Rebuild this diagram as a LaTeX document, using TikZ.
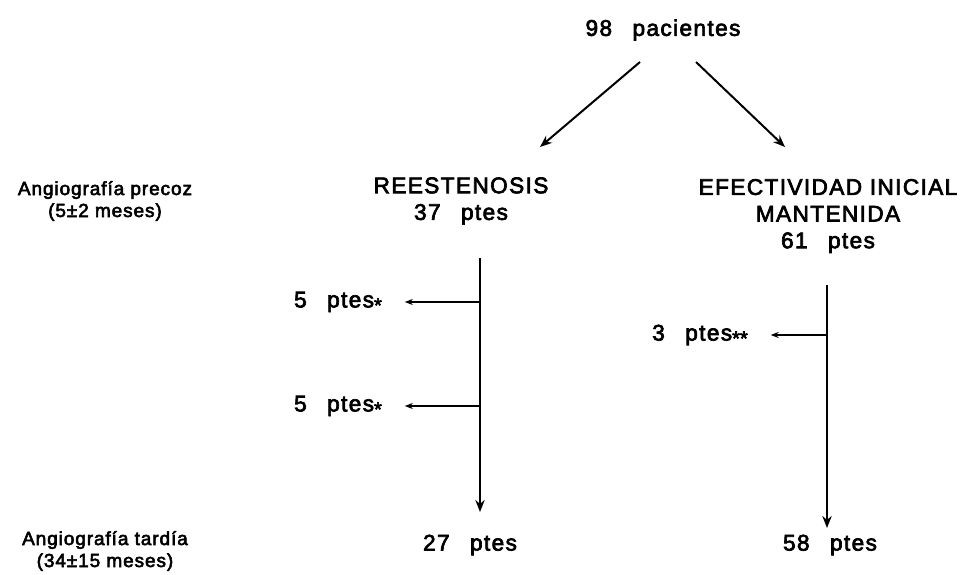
\documentclass[tikz,border=0pt]{standalone}
\usepackage{fontspec}
\setmainfont{Liberation Sans}
\newfontfamily\heavyfont[FakeBold=3,LetterSpace=6]{Liberation Sans}
\newfontfamily\sidefont[FakeBold=3,LetterSpace=5]{Liberation Sans}
\usetikzlibrary{arrows.meta}

\newcommand{\astk}{{\fontsize{15}{15}\selectfont\raisebox{-0.45ex}{*}}}
\newcommand{\gap}{\hspace{0.9em}}

\begin{document}
\begin{tikzpicture}[x=0.75pt,y=-0.75pt,
    big/.style={font=\heavyfont\fontsize{17}{20}\selectfont, align=center, inner sep=1pt},
    side/.style={font=\sidefont\fontsize{14.2}{16.5}\selectfont, align=center, inner sep=1pt},
    arr/.style={line width=1.5pt, -{Stealth[length=9pt,width=7pt]}},
    tick/.style={line width=1.1pt, -{Stealth[length=6pt,width=4.5pt]}, shorten >=16pt}]
    \useasboundingbox (0,0) rectangle (980,574);
    % Top
    \node[big] (tot) at (663,30) {98\gap pacientes};
    % Row labels
    \node[side] (pre) at (105,201) {Angiografía precoz\\(5±2 meses)};
    \node[side] (tar) at (105,551) {Angiografía tardía\\(34±15 meses)};
    % Groups
    \node[big] (ree) at (461,201) {REESTENOSIS\\37\gap ptes};
    \node[big] (efe) at (828,216) {EFECTIVIDAD INICIAL\\MANTENIDA\\61\gap ptes};
    \node[big] (ree2) at (470,545) {27\gap ptes};
    \node[big] (efe2) at (830,545) {58\gap ptes};
    % Split
    \coordinate (tl) at (640,62);
    \coordinate (tr) at (696,62);
    \coordinate (rl) at (540,147);
    \coordinate (rr) at (785,147);
    \draw[arr] (tl) -- (rl);
    \draw[arr] (tr) -- (rr);
    % Left branch
    \coordinate (la) at (480,258);
    \coordinate (lb) at (480,512);
    \draw[arr] (la) -- (lb);
    \node[big] (l1) at (338,302) {5\gap ptes\astk};
    \node[big] (l2) at (338,406) {5\gap ptes\astk};
    \coordinate (lj1) at (480,302);
    \coordinate (lj2) at (480,406);
    \draw[tick] (lj1) -- (l1.east);
    \draw[tick] (lj2) -- (l2.east);
    % Right branch
    \coordinate (ra) at (827,285);
    \coordinate (rb) at (827,528);
    \draw[arr] (ra) -- (rb);
    \node[big] (r1) at (700,335) {3\gap ptes\astk\astk};
    \coordinate (rj1) at (827,335);
    \draw[tick] (rj1) -- (r1.east);
\end{tikzpicture}
\end{document}
